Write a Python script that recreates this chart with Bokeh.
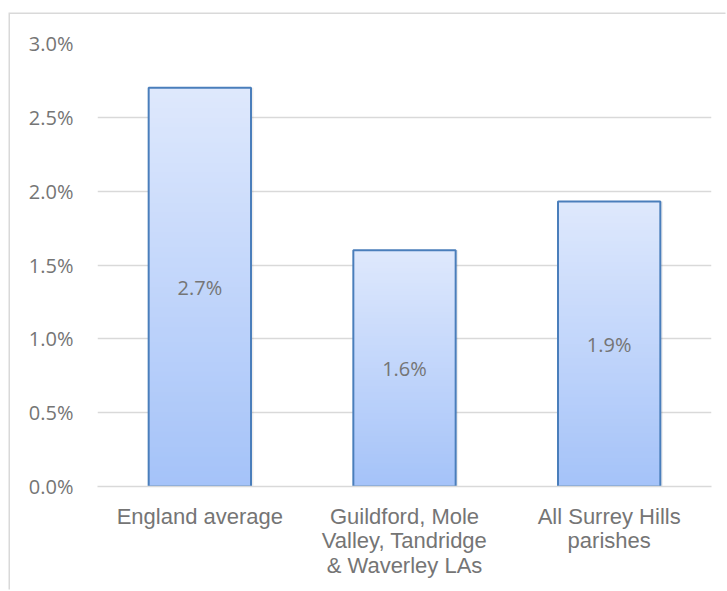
from bokeh.plotting import figure
from bokeh.models import (FactorRange, Range1d, FixedTicker, NumeralTickFormatter,
                          ColumnDataSource)
from bokeh.transform import dodge
from bokeh.core.properties import value
from bokeh.embed import file_html
from bokeh.resources import INLINE

categories = ["England average", "Guildford, Mole\nValley, Tandridge\n& Waverley LAs", "All Surrey Hills\nparishes"]
values = [0.027, 0.016, 0.0193]
data_labels = ["2.7%", "1.6%", "1.9%"]
y_ticks = [0.0, 0.005, 0.01, 0.015, 0.02, 0.025, 0.03]

TOP_COLOR = (223, 233, 253)
BOTTOM_COLOR = (165, 195, 249)
BAR_W = 0.5
N_STRIPS = 80

p = figure(width=717, height=577, margin=(14, 0, 0, 10),
           styles={"box-shadow": "-1.5px -1.5px 0px 0px #d9d9d9"},
           x_range=FactorRange(*categories, range_padding=0),
           y_range=Range1d(0, 0.03), output_backend="svg", toolbar_location=None,
           min_border_left=87, min_border_right=16, min_border_top=29, min_border_bottom=105)
p.outline_line_color = None
p.background_fill_color = "white"
p.border_fill_color = "white"

src = ColumnDataSource(dict(x=categories, top=values, mid=[v / 2 for v in values], lab=data_labels))

# soft shadow
p.vbar(x=dodge("x", 0.012, range=p.x_range), top="top", bottom=0, width=BAR_W, source=src,
       fill_color="#000000", fill_alpha=0.07, line_color=None)

# gradient bars built from the values (tallest/lightest first, overlapping)
xs, tops, cols = [], [], []
for c, v in zip(categories, values):
    for i in range(N_STRIPS):
        f = 1 - i / N_STRIPS
        fm = f - 0.5 / N_STRIPS
        r = int(BOTTOM_COLOR[0] + (TOP_COLOR[0] - BOTTOM_COLOR[0]) * fm)
        g = int(BOTTOM_COLOR[1] + (TOP_COLOR[1] - BOTTOM_COLOR[1]) * fm)
        b = int(BOTTOM_COLOR[2] + (TOP_COLOR[2] - BOTTOM_COLOR[2]) * fm)
        xs.append(c)
        tops.append(v * f)
        cols.append("#%02x%02x%02x" % (r, g, b))
p.vbar(x=xs, bottom=0, top=tops, width=BAR_W, fill_color=cols, line_color=None)

p.vbar(x="x", top="top", bottom=0, width=BAR_W, source=src, fill_alpha=0,
       line_color="#4a7ebb", line_width=2)
p.text(x="x", y="mid", text="lab", source=src, text_align="center", text_baseline="middle",
       text_font=value("Open Sans"), text_font_size="20px", text_color="#757575")

# axes
p.yaxis.ticker = FixedTicker(ticks=y_ticks)
p.yaxis.formatter = NumeralTickFormatter(format="0.0%")
p.yaxis.axis_line_color = None
p.yaxis.major_tick_line_color = None
p.yaxis.minor_tick_line_color = None
p.yaxis.major_label_standoff = 18
p.yaxis.major_label_text_font = "Open Sans"
p.yaxis.major_label_text_font_size = "20px"
p.yaxis.major_label_text_color = "#757575"

p.xaxis.axis_line_color = "#d9d9d9"
p.xaxis.axis_line_width = 1.5
p.xaxis.major_tick_line_color = None
p.xaxis.minor_tick_line_color = None
p.xaxis.major_label_standoff = 11
p.xaxis.major_label_text_font = "Liberation Sans"
p.xaxis.major_label_text_font_size = "22px"
p.xaxis.major_label_text_color = "#757575"
p.xaxis.major_label_text_line_height = 0.98

p.xgrid.grid_line_color = None
p.ygrid.grid_line_color = "#d9d9d9"
p.ygrid.grid_line_width = 1.5

open("out.html", "w").write(file_html(p, INLINE))
